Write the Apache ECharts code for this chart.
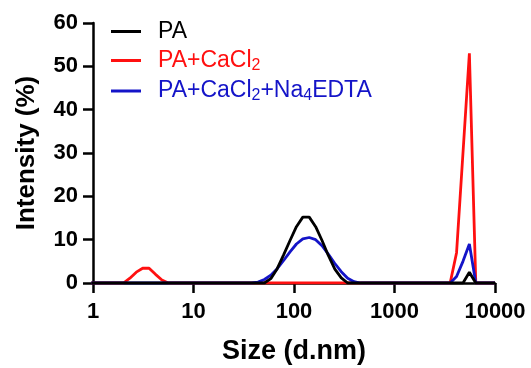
<!DOCTYPE html>
<html>
<head>
<meta charset="utf-8">
<script src="https://cdn.jsdelivr.net/npm/echarts@6/dist/echarts.min.js"></script>
<style>
html,body{margin:0;padding:0;background:#fff;}
#chart{width:531px;height:368px;}
</style>
</head>
<body>
<div id="chart"></div>
<script>
// DLS size bins (d.nm)
const sizes = [0.9649,1.117,1.294,1.499,1.736,2.010,2.328,2.696,3.122,3.615,4.187,4.849,5.615,6.503,7.531,8.721,10.10,11.70,13.54,15.69,18.17,21.04,24.36,28.21,32.67,37.84,43.82,50.75,58.77,68.06,78.82,91.28,105.7,122.4,141.8,164.2,190.1,220.2,255.0,295.3,342.0,396.1,458.7,531.2,615.1,712.4,825.0,955.4,1106,1281,1484,1718,1990,2305,2669,3091,3580,4145,4801,5560,6439,7456,8635,10000];

// Intensity (%)
const paValues = [0,0,0,0,0,0,0,0,0,0,0,0,0,0,0,0,0,0,0,0,0,0,0,0,0,0,0,0,1.0,3.3,6.5,9.8,13.0,15.2,15.2,13.0,9.8,6.3,3.2,1.2,0,0,0,0,0,0,0,0,0,0,0,0,0,0,0,0,0,0,0,2.5,0,0,0,0];
const caValues = [0,0,0,0,0,0,1.1,2.5,3.4,3.4,2.0,0.7,0,0,0,0,0,0,0,0,0,0,0,0,0,0,0,0,0,0,0,0,0,0,0,0,0,0,0,0,0,0,0,0,0,0,0,0,0,0,0,0,0,0,0,0,0,7.0,30.0,53.0,0,0,0,0];
const edtaValues = [0,0,0,0,0,0,0,0,0,0,0,0,0,0,0,0,0,0,0,0,0,0,0,0,0,0,0.2,0.8,1.8,3.3,5.2,7.2,9.0,10.2,10.5,10.0,8.6,6.6,4.5,2.6,1.1,0.3,0,0,0,0,0,0,0,0,0,0,0,0,0,0,0,1.5,5.0,9.0,0,0,0,0];

const seriesNames = ['PA', 'PA+CaCl2', 'PA+CaCl2+Na4EDTA'];
const seriesColors = ['#000000', '#ff1010', '#1414c8'];
const xTickLabels = ['1', '10', '100', '1000', '10000'];
const yMin = 0, yMax = 60, yStep = 10;

const FONT = 'Liberation Sans, Arial, Helvetica, sans-serif';

function pairs(vals) { return sizes.map((s, i) => [s, vals[i]]); }

const chart = echarts.init(document.getElementById('chart'), null, {renderer: 'canvas'});

const mkSeries = (idx, vals) => ({
  name: seriesNames[idx],
  type: 'line',
  data: pairs(vals),
  showSymbol: false,
  symbol: 'none',
  smooth: false,
  clip: true,
  color: seriesColors[idx],
  lineStyle: {color: seriesColors[idx], width: 2.8},
  itemStyle: {color: seriesColors[idx]},
  emphasis: {disabled: true}
});

chart.setOption({
  animation: false,
  backgroundColor: '#ffffff',
  grid: {left: 93, right: 36, top: 23, bottom: 85, containLabel: false, outerBoundsMode: 'none'},
  legend: {
    orient: 'vertical',
    left: 111,
    top: 20,
    padding: 0,
    itemWidth: 30,
    itemHeight: 3,
    itemGap: 6,
    icon: 'rect',
    selectedMode: false,
    formatter: function (name) {
      return name.replace(/Cl2/g, 'Cl{s|2}').replace(/Na4/g, 'Na{s|4}');
    },
    textStyle: {
      fontFamily: FONT,
      fontSize: 23,
      padding: [0, 0, 0, 12],
      rich: {
        s: {fontFamily: FONT, fontSize: 16, padding: [10, 0, 0, 0]}
      }
    },
    data: seriesNames.map((n, i) => ({name: n, textStyle: {color: seriesColors[i]}}))
  },
  xAxis: {
    type: 'log',
    logBase: 10,
    min: 1,
    max: 10000,
    name: 'Size (d.nm)',
    nameLocation: 'middle',
    nameGap: 55,
    nameTextStyle: {fontFamily: FONT, fontSize: 27, fontWeight: 'bold', color: '#000'},
    axisLine: {show: true, lineStyle: {color: '#000', width: 2.5}},
    axisTick: {show: true, inside: false, length: 10, lineStyle: {color: '#000', width: 2.5}},
    minorTick: {show: false},
    splitLine: {show: false},
    axisLabel: {
      fontFamily: FONT, fontSize: 22, fontWeight: 'bold', color: '#000', margin: 18,
      formatter: function (v) {
        const r = Math.round(v);
        return xTickLabels.indexOf(String(r)) >= 0 ? String(r) : '';
      }
    }
  },
  yAxis: {
    type: 'value',
    min: yMin,
    max: yMax,
    interval: yStep,
    name: 'Intensity (%)',
    nameLocation: 'middle',
    nameRotate: 90,
    nameGap: 53,
    nameTextStyle: {fontFamily: FONT, fontSize: 26, fontWeight: 'bold', color: '#000'},
    axisLine: {show: true, lineStyle: {color: '#000', width: 2.5}},
    axisTick: {show: true, inside: false, length: 10, lineStyle: {color: '#000', width: 2.5}},
    splitLine: {show: false},
    axisLabel: {fontFamily: FONT, fontSize: 22, fontWeight: 'bold', color: '#000', margin: 15}
  },
  series: [
    mkSeries(1, caValues),
    mkSeries(2, edtaValues),
    mkSeries(0, paValues)
  ]
});
</script>
</body>
</html>
